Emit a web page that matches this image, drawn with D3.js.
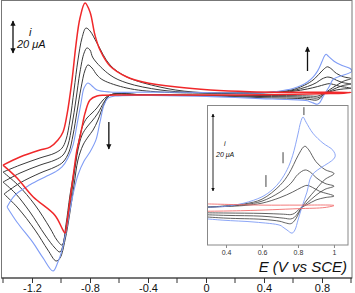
<!DOCTYPE html>
<html>
<head>
<meta charset="utf-8">
<script src="https://cdn.jsdelivr.net/npm/d3@7"></script>
<style>
  body { margin: 0; background: #fff; }
  svg { display: block; font-family: "Liberation Sans", Arial, sans-serif; }
</style>
</head>
<body>
<svg id="chart" width="355" height="293"></svg>
<script>
// potential E (V vs SCE), current i (uA); each loop = positive sweep then negative sweep
var redCurve = [
  [-1.4,-42.4],[-1.283,-37.6],[-1.145,-33.5],[-1.076,-31.8],[-1.021,-27.6],[-0.986,-22.9],[-0.959,-12.9],
  [-0.924,7.6],[-0.897,28.2],[-0.869,44.1],[-0.834,52.9],[-0.8,47.6],[-0.766,34.1],[-0.731,25.3],
  [-0.662,15.9],[-0.545,9.4],[-0.434,6.5],[-0.2,3.5],[0.03,1.8],[0.3,0.8],[0.6,0.5],[0.8,0.5],[1.0,0.4],
  [0.95,-0.1],[0.8,-0.4],[0.5,-0.9],[0.2,-1.1],[-0.2,-1.1],[-0.5,-1.2],[-0.7,-1.3],[-0.752,-1.8],
  [-0.8,-4.1],[-0.834,-11.8],[-0.855,-20],[-0.869,-26],[-0.89,-33.5],[-0.91,-45],[-0.938,-63],
  [-0.959,-76.5],[-0.972,-82.4],[-0.99,-80],[-1.041,-72],[-1.193,-61],[-1.303,-50],[-1.4,-42.4]
];
var blueCurve = [
  [-1.372,-67],[-1.317,-60],[-1.214,-54],[-1.11,-49.4],[-1.041,-46.5],[-0.993,-43.5],[-0.952,-38.2],
  [-0.917,-30.6],[-0.89,-18.8],[-0.862,-5.9],[-0.841,2.9],[-0.814,5.9],[-0.786,4.1],[-0.752,1.8],
  [-0.662,0.6],[-0.386,0.5],[0,0.3],[0.3,0],[0.4,0.2],[0.5,1],[0.6,2.6],[0.66,4.5],[0.7,6.5],[0.74,9.5],
  [0.77,13],[0.8,18.5],[0.815,21.5],[0.828,22.8],[0.845,21.5],[0.883,18.7],[0.939,16.2],[0.994,14.4],[1.006,12.7],
  [0.878,8.1],[0.85,3.8],[0.822,0],[0.8,-3.3],[0.783,-5.8],[0.767,-6.6],[0.739,-5.8],[0.717,-5.1],[0.7,-4.6],
  [0.561,-3.8],[0.378,-3.3],[0.2,-2.6],[0,-2],[-0.386,-1.4],[-0.628,-1.8],[-0.676,-3],[-0.703,-7],
  [-0.731,-17],[-0.759,-27.6],[-0.8,-34.7],[-0.841,-40],[-0.883,-48.2],[-0.91,-57],[-0.938,-68.8],
  [-0.966,-81.8],[-0.993,-92.4],[-1.021,-99.4],[-1.055,-104.7],[-1.124,-97],[-1.193,-88],[-1.303,-76],[-1.372,-67]
];
var black1 = [
  [-1.4,-46.5],[-1.283,-42.4],[-1.145,-38.2],[-1.041,-35.3],[-0.993,-32.4],[-0.966,-27.6],[-0.938,-15.9],
  [-0.91,1.8],[-0.883,19.4],[-0.855,32.4],[-0.828,38.2],[-0.8,36.5],[-0.752,29.4],[-0.662,16.5],
  [-0.545,9.4],[-0.317,3.5],[-0.09,0.6],[0.3,0],[0.5,0.8],[0.6,2],[0.7,5.5],[0.75,8.5],[0.8,13],
  [0.83,15.2],[0.84,15.4],[0.86,14.5],[0.9,11.5],[0.95,9.5],[1.0,8.5],
  [0.95,7],[0.9,4.5],[0.85,1.8],[0.822,0],[0.8,-2],[0.78,-3.5],[0.76,-4.2],[0.73,-4],[0.7,-3.6],
  [0.6,-3.1],[0.4,-2.8],[0.2,-2.2],[0,-1.6],[-0.4,-1.2],[-0.662,-1.2],[-0.71,-4.1],[-0.752,-8.8],
  [-0.786,-11.8],[-0.821,-14.7],[-0.848,-18.8],[-0.876,-27.6],[-0.903,-42.4],[-0.938,-60],[-0.966,-77.6],
  [-0.993,-89.4],[-1.028,-86.5],[-1.076,-79.4],[-1.179,-65.9],[-1.297,-54.1],[-1.4,-46.5]
];
var black2 = [
  [-1.4,-52.4],[-1.283,-47.1],[-1.145,-42.4],[-1.041,-39.4],[-0.986,-36.5],[-0.952,-30.6],[-0.924,-18.8],
  [-0.897,-4.1],[-0.869,12.4],[-0.841,23.5],[-0.821,26.5],[-0.8,25.3],[-0.779,20.6],[-0.662,10.6],
  [-0.545,5.9],[-0.317,1.8],[-0.09,0.3],[0.3,0],[0.5,0.6],[0.6,1.5],[0.7,3.8],[0.76,6],[0.8,8.3],
  [0.84,9.4],[0.87,8.8],[0.9,7.5],[0.95,6],[1.0,5.3],
  [0.95,4.5],[0.9,3],[0.85,1],[0.822,0],[0.8,-1.5],[0.78,-2.6],[0.76,-3],[0.72,-2.8],[0.6,-2.3],
  [0.4,-2.1],[0.2,-1.8],[0,-1.5],[-0.4,-1.2],[-0.662,-1.2],[-0.703,-5.3],[-0.745,-11.8],[-0.786,-16.5],
  [-0.821,-20],[-0.855,-24.7],[-0.883,-33.5],[-0.91,-48.2],[-0.938,-65.9],[-0.972,-83.5],[-1.007,-93.5],
  [-1.041,-91.2],[-1.11,-83.5],[-1.214,-70],[-1.317,-58.8],[-1.4,-52.4]
];
var black3 = [
  [-1.393,-59.4],[-1.283,-52.9],[-1.145,-47.1],[-1.041,-43.5],[-0.986,-40.6],[-0.945,-34.7],[-0.917,-24.7],
  [-0.89,-11.2],[-0.862,2.9],[-0.834,13.5],[-0.814,16.5],[-0.786,14.7],[-0.752,10.6],[-0.71,7.6],
  [-0.545,2.9],[-0.317,0.6],[0.3,0],[0.5,0.4],[0.6,1],[0.7,2.4],[0.77,3.8],[0.82,5],[0.85,5.5],
  [0.88,5],[0.92,4],[1.0,2.8],
  [0.95,2.4],[0.9,1.8],[0.85,0.6],[0.822,0],[0.8,-0.8],[0.78,-1.6],[0.76,-1.9],[0.72,-1.8],[0.6,-1.6],
  [0.4,-1.5],[0.2,-1.4],[0,-1.3],[-0.4,-1.2],[-0.662,-1.2],[-0.703,-6.5],[-0.745,-15.9],[-0.779,-21.8],
  [-0.814,-25.9],[-0.848,-30.6],[-0.883,-39.4],[-0.91,-54.1],[-0.938,-70],[-0.972,-86.5],[-1.007,-97.1],
  [-1.034,-98.8],[-1.09,-92.4],[-1.179,-80.6],[-1.297,-67.6],[-1.393,-59.4]
];

var mainTicks = [-1.2, -0.8, -0.4, 0, 0.4, 0.8];
var mainMinor = [-1.4, -1.0, -0.6, -0.2, 0.2, 0.6, 1.0];
var insetTicks = [0.4, 0.6, 0.8, 1];
var insetMarks = [[0.622, 5.1, 8.1], [0.717, 11.1, 13.9], [0.833, 23.3, 25.3]];

var svg = d3.select("#chart");

var x = d3.scaleLinear().domain([-1.4, 1.0]).range([3, 351]);
var y = d3.scaleLinear().domain([-108.8, 54.7]).range([278, 0]);

var curves = [
  {d: black3, c: "#3a3a3a", w: 1},
  {d: black2, c: "#3a3a3a", w: 1},
  {d: black1, c: "#3a3a3a", w: 1},
  {d: blueCurve, c: "#7f9cf5", w: 1.1},
  {d: redCurve, c: "#f0282a", w: 1.5}
];

var defs = svg.append("defs");
defs.append("clipPath").attr("id", "mainClip")
  .append("rect").attr("x", 2).attr("y", 0).attr("width", 350).attr("height", 278);
defs.append("clipPath").attr("id", "insetClip")
  .append("rect").attr("x", 208).attr("y", 106).attr("width", 140).attr("height", 139);
var marker = defs.append("marker").attr("id", "ah")
  .attr("viewBox", "0 0 10 10").attr("refX", 9).attr("refY", 5)
  .attr("markerWidth", 4).attr("markerHeight", 5).attr("orient", "auto-start-reverse");
marker.append("path").attr("d", "M0,0 L10,5 L0,10 Z").attr("fill", "#111");

var line = d3.line().x(function(d){ return x(d[0]); }).y(function(d){ return y(d[1]); })
  .curve(d3.curveCatmullRom.alpha(0.5));

var g = svg.append("g").attr("clip-path", "url(#mainClip)");
curves.forEach(function(k){
  g.append("path").attr("d", line(k.d)).attr("fill", "none")
    .attr("stroke", k.c).attr("stroke-width", k.w).attr("stroke-linejoin", "round");
});

// frame
svg.append("rect").attr("x", 1.5).attr("y", 0.5).attr("width", 350.5).attr("height", 277.5)
  .attr("fill", "none").attr("stroke", "#777").attr("stroke-width", 1);
svg.append("line").attr("x1", 1.5).attr("x2", 352).attr("y1", 278).attr("y2", 278)
  .attr("stroke", "#333").attr("stroke-width", 1);

// bottom axis
var ax = svg.append("g").attr("transform", "translate(0,278)");
ax.call(d3.axisBottom(x).tickValues(mainTicks).tickSize(5)
  .tickFormat(function(d){ return d === 0 ? "0" : d3.format(".1f")(d).replace("\u2212", "-"); }));
ax.select(".domain").remove();
ax.selectAll("text").attr("font-size", 11).attr("fill", "#111").attr("y", 13.5).attr("dy", null);
ax.selectAll("line").attr("stroke", "#333");
mainMinor.forEach(function(v){
  ax.append("line").attr("x1", x(v)).attr("x2", x(v)).attr("y1", 0).attr("y2", 5).attr("stroke", "#333");
});

svg.append("text").attr("x", 347).attr("y", 272).attr("text-anchor", "end")
  .attr("font-size", 15).attr("font-style", "italic").attr("fill", "#111")
  .text("E (V vs SCE)");

// scale bar
svg.append("line").attr("x1", 13).attr("x2", 13).attr("y1", 21).attr("y2", 53)
  .attr("stroke", "#111").attr("stroke-width", 1.3)
  .attr("marker-start", "url(#ah)").attr("marker-end", "url(#ah)");
svg.append("text").attr("x", 29).attr("y", 36).attr("font-size", 11).attr("font-style", "italic").attr("fill", "#111").text("i");
svg.append("text").attr("x", 17).attr("y", 48).attr("font-size", 11).attr("font-style", "italic").attr("fill", "#111").text("20 \u03bcA");

// trend arrows
svg.append("line").attr("x1", x(-0.67)).attr("x2", x(-0.67)).attr("y1", 122).attr("y2", 149)
  .attr("stroke", "#111").attr("stroke-width", 1.3).attr("marker-end", "url(#ah)");
svg.append("line").attr("x1", x(0.7)).attr("x2", x(0.7)).attr("y1", 71).attr("y2", 47)
  .attr("stroke", "#111").attr("stroke-width", 1.3).attr("marker-end", "url(#ah)");

// inset
var xi = d3.scaleLinear().domain([0.3, 1.078]).range([208, 348]);
var yi = d3.scaleLinear().domain([-9.6, 25.6]).range([245, 106]);
var lineI = d3.line().x(function(d){ return xi(d[0]); }).y(function(d){ return yi(d[1]); })
  .curve(d3.curveCatmullRom.alpha(0.5));

svg.append("rect").attr("x", 207.5).attr("y", 105.5).attr("width", 140.5).attr("height", 139.5)
  .attr("fill", "#fff").attr("stroke", "#888").attr("stroke-width", 1);
var gi = svg.append("g").attr("clip-path", "url(#insetClip)");
var insetCurves = [
  {d: black3, c: "#3a3a3a", w: 0.8},
  {d: black2, c: "#3a3a3a", w: 0.8},
  {d: black1, c: "#3a3a3a", w: 0.8},
  {d: blueCurve, c: "#7f9cf5", w: 0.9},
  {d: redCurve, c: "#f26c6c", w: 0.9}
];
insetCurves.forEach(function(k){
  var pts = k.d.filter(function(p){ return p[0] >= 0.2; });
  gi.append("path").attr("d", lineI(pts)).attr("fill", "none")
    .attr("stroke", k.c).attr("stroke-width", k.w);
});
insetMarks.forEach(function(m){
  svg.append("line").attr("x1", xi(m[0])).attr("x2", xi(m[0])).attr("y1", yi(m[1])).attr("y2", yi(m[2]))
    .attr("stroke", "#444").attr("stroke-width", 1);
});
var axi = svg.append("g").attr("transform", "translate(0,245)");
axi.call(d3.axisBottom(xi).tickValues(insetTicks).tickSize(3).tickFormat(function(d){ return d === 1 ? "1" : d3.format(".1f")(d); }));
axi.select(".domain").remove();
axi.selectAll("line").attr("stroke", "#888");
axi.selectAll("text").attr("font-size", 7).attr("fill", "#333").attr("y", 10).attr("dy", null);

svg.append("line").attr("x1", 213).attr("x2", 213).attr("y1", 114).attr("y2", 191)
  .attr("stroke", "#111").attr("stroke-width", 0.9)
  .attr("marker-start", "url(#ah)").attr("marker-end", "url(#ah)");
svg.append("text").attr("x", 224).attr("y", 146).attr("font-size", 7).attr("font-style", "italic").attr("fill", "#111").text("i");
svg.append("text").attr("x", 216).attr("y", 157).attr("font-size", 7).attr("font-style", "italic").attr("fill", "#111").text("20 \u03bcA");
</script>
</body>
</html>
